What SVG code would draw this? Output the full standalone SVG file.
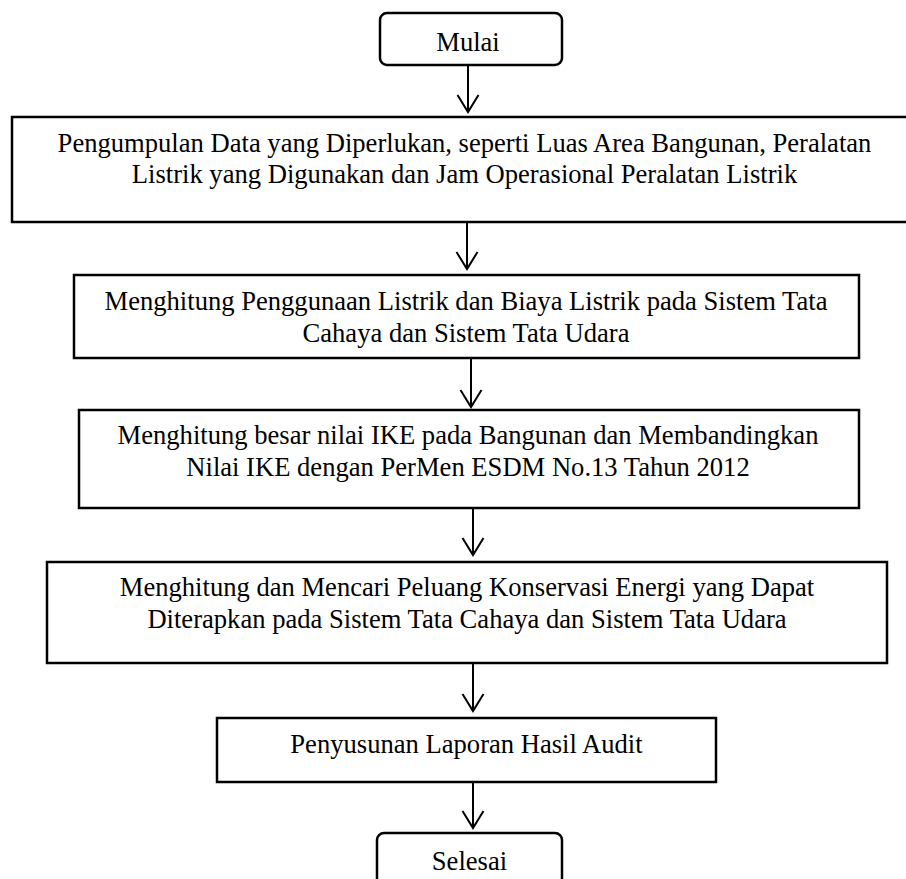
<svg xmlns="http://www.w3.org/2000/svg" width="906" height="879" viewBox="0 0 906 879">
<style>
.box{fill:#fff;stroke:#000;stroke-width:2.5}
.t{font-family:"Liberation Serif","Times New Roman",serif;font-size:26.6px;fill:#000;text-anchor:middle}
.c{fill:none;stroke:#000;stroke-width:2;marker-end:url(#arr)}
</style>
<defs>
<marker id="arr" markerUnits="userSpaceOnUse" markerWidth="22" markerHeight="26" viewBox="-19 -13 21 26" refX="0" refY="0" orient="auto">
<path d="M -17 -10.5 L 0 0 L -17 10.5" fill="none" stroke="#000" stroke-width="2"/>
</marker>
</defs>
<rect width="906" height="879" fill="#fff"/>
<g id="connectors">
<path class="c" d="M468 65 V112"/>
<path class="c" d="M467 222 V269"/>
<path class="c" d="M471 358 V407"/>
<path class="c" d="M473 508 V555"/>
<path class="c" d="M473 663 V711"/>
<path class="c" d="M473 782 V828"/>
</g>
<g id="mulai">
<rect class="box" x="380" y="13" width="182" height="52" rx="7"/>
<text class="t" x="468" y="51">Mulai</text>
</g>
<g id="pengumpulan">
<rect class="box" x="12" y="117" width="912" height="105"/>
<text class="t" x="464.5" y="152">Pengumpulan Data yang Diperlukan, seperti Luas Area Bangunan, Peralatan</text>
<text class="t" x="464.5" y="183">Listrik yang Digunakan dan Jam Operasional Peralatan Listrik</text>
</g>
<g id="menghitung-listrik">
<rect class="box" x="74" y="275" width="785" height="83"/>
<text class="t" x="466" y="310">Menghitung Penggunaan Listrik dan Biaya Listrik pada Sistem Tata</text>
<text class="t" x="466" y="342">Cahaya dan Sistem Tata Udara</text>
</g>
<g id="menghitung-ike">
<rect class="box" x="79" y="410" width="780" height="98"/>
<text class="t" x="468" y="444">Menghitung besar nilai IKE pada Bangunan dan Membandingkan</text>
<text class="t" x="468" y="476">Nilai IKE dengan PerMen ESDM No.13 Tahun 2012</text>
</g>
<g id="peluang">
<rect class="box" x="47" y="562" width="840" height="101"/>
<text class="t" x="467" y="596">Menghitung dan Mencari Peluang Konservasi Energi yang Dapat</text>
<text class="t" x="467" y="628">Diterapkan pada Sistem Tata Cahaya dan Sistem Tata Udara</text>
</g>
<g id="laporan">
<rect class="box" x="217" y="718" width="499" height="64"/>
<text class="t" x="466.5" y="753">Penyusunan Laporan Hasil Audit</text>
</g>
<g id="selesai">
<rect class="box" x="377" y="833" width="185" height="52" rx="7"/>
<text class="t" x="469.5" y="870">Selesai</text>
</g>
</svg>
